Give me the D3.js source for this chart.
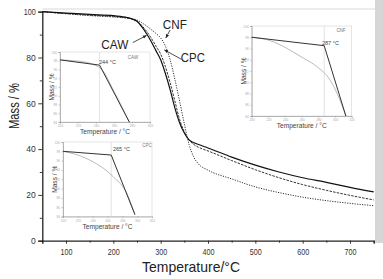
<!DOCTYPE html>
<html lang="en">
<head>
  <meta charset="UTF-8">
  <title>TGA curves</title>
  <script src="https://d3js.org/d3.v7.min.js"></script>
  <style>
    body { margin: 0; background: white; font-family: 'Liberation Sans', Arial, sans-serif; }
    svg { display: block; }
  </style>
</head>
<body>
  <svg id="chart" width="383" height="279"></svg>
  <script>
    // main TGA curves (temperature in °C, mass in %)
    var temps = [50,100,150,200,225,240,250,260,270,280,290,300,310,320,330,340,350,360,370,380,400,450,500,550,600,650,700,750];
    var cawMass = [100,99.4,98.8,98.3,97.6,96.8,95.8,93.5,90.5,87,83,79,73,66,58,51.5,47,44,42.8,42,40.5,36.5,33,30,27.5,25.5,23.3,21.3];
    var cpcMass = [100,99.2,98.5,97.9,97.4,96.7,95.9,94,91.5,88.5,85,81.5,76,69,61,53,47.5,44,42,40.8,39.2,35,31,27.5,24.5,22,19.8,17.8];
    var cnfMass = [100,99.1,98.3,97.7,97.3,96.9,96.4,95.2,93.8,92.2,90.5,88.5,85,79,70.5,61,51,42,36.5,33.5,30.8,27,23.5,21,19,17.5,16.3,15.3];

    var xTicks = [100,200,300,400,500,600,700];
    var yTicks = [0,20,40,60,80,100];

    // curve labels: [text x, text y, arrow from x, y, arrow to x, y] in data units
    var labelNames = ["CNF","CAW","CPC"];
    var labelPos = [[330,94.6,320,92,311,88.6],[203,85.5,241,86.5,270,89.6],[368,80.1,344,79.2,308,83.3]];

    // onset insets: tangent construction (dark) and measured curve (gray)
    var insetNames = ["CAW","CPC","CNF"];
    var insetOnset = [244,265,287];
    var insetXMax = [300,320,320];
    var insetTicksY = [84,86,88,90,92,94,96,98,100];
    var cawTangent = [[200,98.2],[244,97.0],[277,84]];
    var cawCurve = [[200,98.2],[215,98.0],[230,97.6],[240,96.9],[246,96.1],[260,91.0],[277,84]];
    var cpcTangent = [[200,98.0],[265,97.2],[297,84.4]];
    var cpcCurve = [[200,98.0],[220,97.2],[241,95.7],[255,94.3],[268,92.5],[286,89],[297,84.4]];
    var cnfTangent = [[200,98.0],[287,96.5],[313,84]];
    var cnfCurve = [[200,98.0],[220,97.5],[235,96.6],[246,95.7],[262,94.3],[278,92.8],[294,90.4],[306,86.8],[313,84]];

    var svg = d3.select("#chart");
    var mLeft = 42.3, mRight = 373.7, mTop = 11.7, mBottom = 240.7;

    var x = d3.scaleLinear().domain([50, 750]).range([mLeft, mRight]);
    var y = d3.scaleLinear().domain([0, 100]).range([mBottom, mTop]);

    // frame bits
    svg.append("rect").attr("x", 375).attr("y", 0).attr("width", 8).attr("height", 243).attr("fill", "#d6d6d6");
    svg.append("line").attr("x1", mLeft).attr("x2", 375).attr("y1", 9).attr("y2", 9)
      .attr("stroke", "#cfcfcf").attr("stroke-width", 0.8);

    // axes
    var gx = svg.append("g").attr("transform", "translate(0," + mBottom + ")")
      .call(d3.axisBottom(x).tickValues(d3.range(50, 751, 50)).tickSize(3).tickFormat(d => xTicks.includes(d) ? d : ""));
    var gy = svg.append("g").attr("transform", "translate(" + mLeft + ",0)")
      .call(d3.axisLeft(y).tickValues(d3.range(0, 101, 10)).tickSize(4).tickFormat(d => yTicks.includes(d) ? d : ""));
    [gx, gy].forEach(function(g) {
      g.select(".domain").attr("stroke", "#222").attr("stroke-width", 1.3);
      g.selectAll(".tick line").attr("stroke", "#222").attr("stroke-width", 0.9);
      g.selectAll(".tick text").attr("fill", "#333").attr("font-size", 8.5)
        .attr("font-family", "'Liberation Sans', Arial, sans-serif");
    });
    gx.selectAll(".tick").filter(d => !xTicks.includes(d)).select("line").attr("y2", 2);
    gy.selectAll(".tick").filter(d => !yTicks.includes(d)).select("line").attr("x2", -2.5);
    gx.selectAll(".tick text").filter(d => xTicks.includes(d)).attr("dy", "0.95em")
      .attr("textLength", 12).attr("lengthAdjust", "spacingAndGlyphs");
    gy.selectAll(".tick text").attr("x", -6.5);
    gy.selectAll(".tick text").filter(d => d === 100).attr("textLength", 12).attr("lengthAdjust", "spacingAndGlyphs");

    svg.append("text").attr("x", 191).attr("y", 272).attr("text-anchor", "middle")
      .attr("font-size", 15).attr("fill", "#222").attr("textLength", 98).attr("lengthAdjust", "spacingAndGlyphs")
      .text("Temperature/°C");
    svg.append("text").attr("transform", "translate(19,106) rotate(-90)").attr("text-anchor", "middle")
      .attr("font-size", 15).attr("fill", "#222").attr("textLength", 46).attr("lengthAdjust", "spacingAndGlyphs")
      .text("Mass / %");

    // insets
    var insetBoxes = [[60, 52, 150, 122], [63, 142, 152, 216.5], [251.7, 26, 351.7, 116]];
    var insetTangents = [cawTangent, cpcTangent, cnfTangent];
    var insetCurves = [cawCurve, cpcCurve, cnfCurve];
    var insetLabelPos = [[99, 64, 133, 59], [113, 151, 147, 147], [322, 45, 341, 32]];

    insetNames.forEach(function(name, i) {
      var b = insetBoxes[i];
      var ix = d3.scaleLinear().domain([200, insetXMax[i]]).range([b[0], b[2]]);
      var iy = d3.scaleLinear().domain([84, 100]).range([b[3], b[1]]);
      var g = svg.append("g");
      g.append("rect").attr("x", b[0]).attr("y", b[1]).attr("width", b[2] - b[0]).attr("height", b[3] - b[1])
        .attr("fill", "white").attr("stroke", "#d4d4d4").attr("stroke-width", 0.6);
      var ax = g.append("g").attr("transform", "translate(0," + b[3] + ")")
        .call(d3.axisBottom(ix).tickValues(d3.range(200, insetXMax[i] + 1, 20)).tickSize(1.5));
      var ay = g.append("g").attr("transform", "translate(" + b[0] + ",0)")
        .call(d3.axisLeft(iy).tickValues(insetTicksY).tickSize(1.5));
      [ax, ay].forEach(function(a) {
        a.select(".domain").attr("stroke", "#999").attr("stroke-width", 0.7);
        a.selectAll(".tick line").attr("stroke", "#999").attr("stroke-width", 0.5);
        a.selectAll(".tick text").attr("fill", "#aaa").attr("font-size", 3.2);
      });
      ay.selectAll(".tick text").attr("x", -3);
      ax.selectAll(".tick text").attr("y", 3);

      g.append("line").attr("x1", ix(insetOnset[i])).attr("x2", ix(insetOnset[i]))
        .attr("y1", b[1]).attr("y2", b[3]).attr("stroke", "#d0d0d0").attr("stroke-width", 0.6);

      var line = d3.line().x(d => ix(d[0])).y(d => iy(d[1]));
      g.append("path").attr("d", line.curve(d3.curveMonotoneX)(insetCurves[i]))
        .attr("fill", "none").attr("stroke", "#a8a8a8").attr("stroke-width", 0.8);
      g.append("path").attr("d", d3.line().x(d => ix(d[0])).y(d => iy(d[1]))(insetTangents[i]))
        .attr("fill", "none").attr("stroke", "#333").attr("stroke-width", 1);

      var lp = insetLabelPos[i];
      g.append("text").attr("x", lp[0]).attr("y", lp[1]).attr("font-size", 5.5).attr("fill", "#444")
        .text(insetOnset[i] + " °C");
      g.append("text").attr("x", lp[2]).attr("y", lp[3]).attr("font-size", 4.5).attr("fill", "#777")
        .attr("text-anchor", "middle").text(name);

      g.append("text").attr("x", (b[0] + b[2]) / 2).attr("y", b[3] + 12).attr("text-anchor", "middle")
        .attr("font-size", 7.5).attr("fill", "#444").attr("textLength", 50).attr("lengthAdjust", "spacingAndGlyphs")
        .text("Temperature / °C");
      g.append("text").attr("transform", "translate(" + (b[0] - 6) + "," + ((b[1] + b[3]) / 2) + ") rotate(-90)")
        .attr("text-anchor", "middle").attr("font-size", 7).attr("fill", "#444")
        .attr("textLength", 27).attr("lengthAdjust", "spacingAndGlyphs").text("Mass / %");
    });

    // main curves
    var mainLine = d3.line().x((d, i) => x(temps[i])).y(d => y(d)).curve(d3.curveMonotoneX);
    svg.append("path").attr("d", mainLine(cnfMass)).attr("fill", "none")
      .attr("stroke", "#333").attr("stroke-width", 1).attr("stroke-dasharray", "1.2,1.3");
    svg.append("path").attr("d", mainLine(cpcMass)).attr("fill", "none")
      .attr("stroke", "#333").attr("stroke-width", 1).attr("stroke-dasharray", "2.5,1.2");
    svg.append("path").attr("d", mainLine(cawMass)).attr("fill", "none")
      .attr("stroke", "#111").attr("stroke-width", 1.2);

    // labels with arrows
    svg.append("defs").append("marker").attr("id", "arr").attr("viewBox", "0 0 10 10")
      .attr("refX", 9).attr("refY", 5).attr("markerWidth", 5).attr("markerHeight", 5).attr("orient", "auto")
      .append("path").attr("d", "M0,1L10,5L0,9z").attr("fill", "#222");
    labelNames.forEach(function(n, i) {
      var p = labelPos[i];
      svg.append("text").attr("x", x(p[0])).attr("y", y(p[1])).attr("dy", "0.36em").attr("text-anchor", "middle")
        .attr("font-size", 12.5).attr("fill", "#222").attr("textLength", n === "CAW" ? 27 : 24)
        .attr("lengthAdjust", "spacingAndGlyphs").text(n);
      svg.append("line").attr("x1", x(p[2])).attr("y1", y(p[3])).attr("x2", x(p[4])).attr("y2", y(p[5]))
        .attr("stroke", "#222").attr("stroke-width", 0.8).attr("marker-end", "url(#arr)");
    });
  </script>
</body>
</html>
